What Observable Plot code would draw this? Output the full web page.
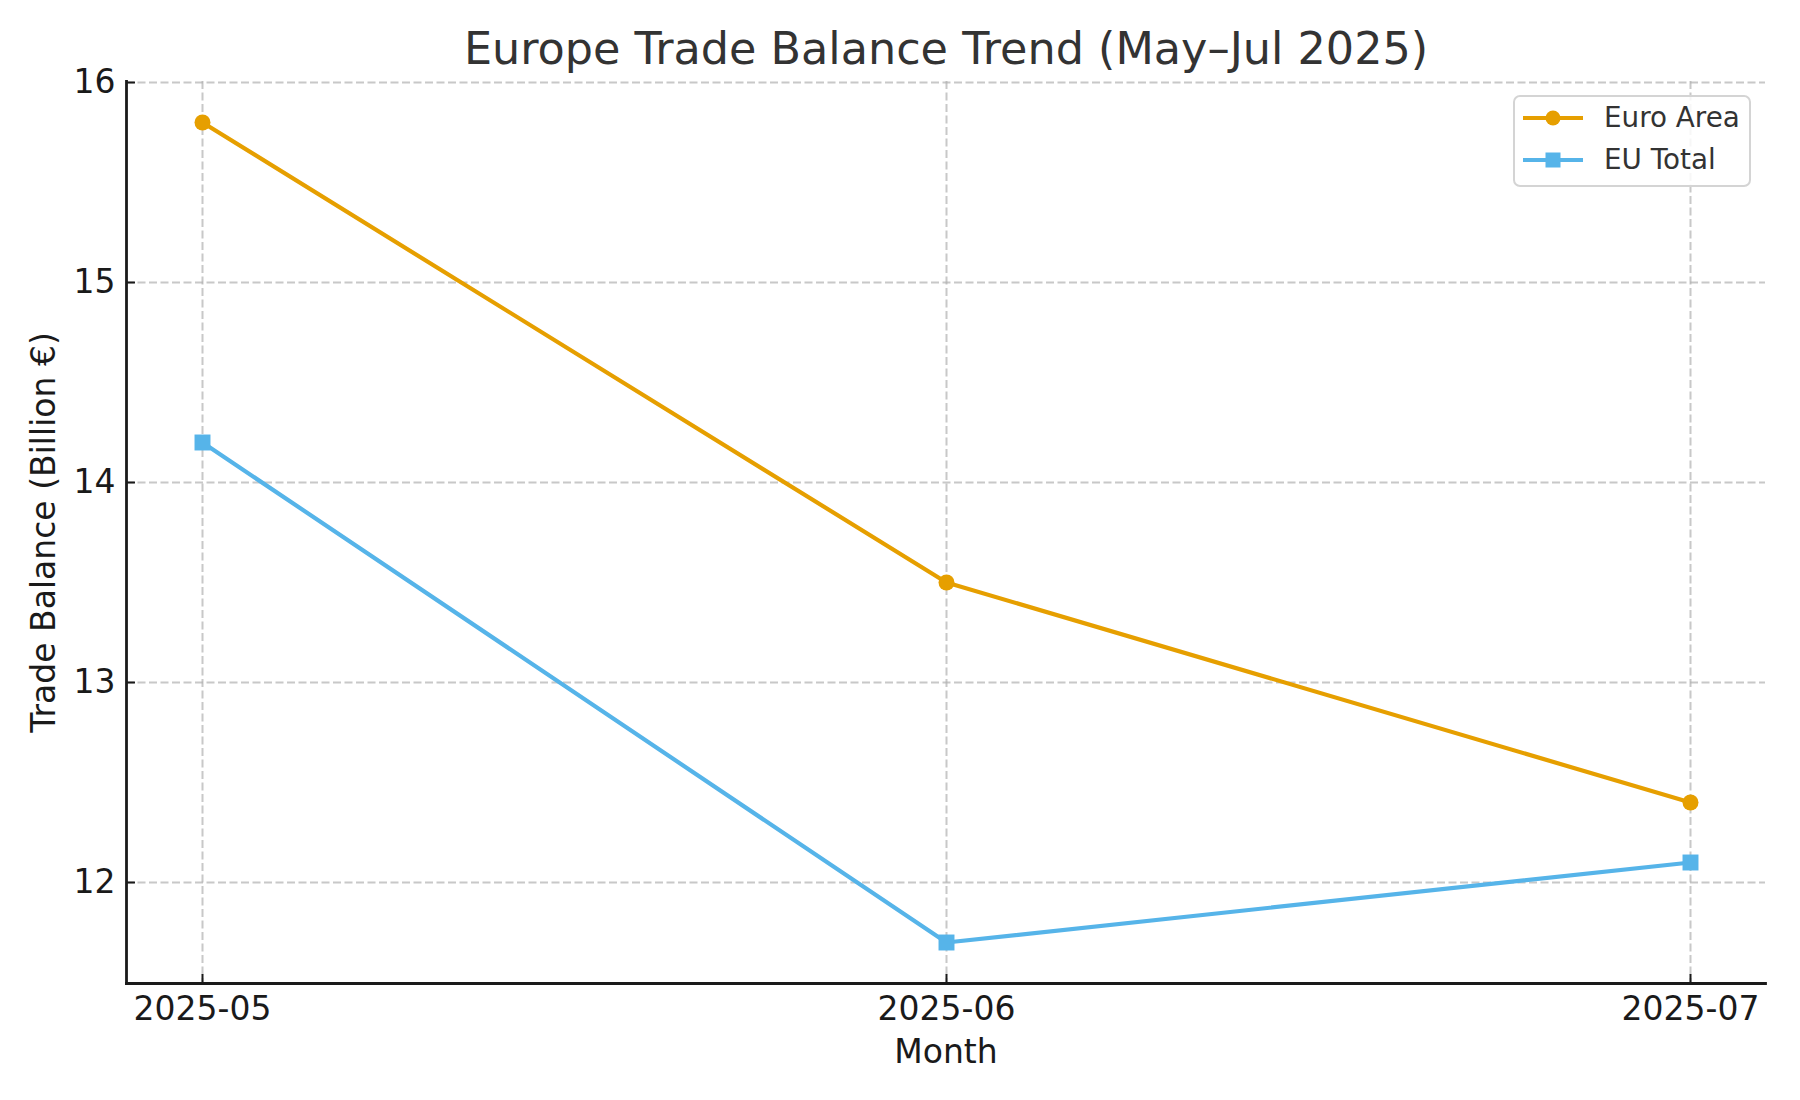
<!DOCTYPE html>
<html>
<head>
<meta charset="utf-8">
<script src="https://cdn.jsdelivr.net/npm/d3@7"></script>
<script src="https://cdn.jsdelivr.net/npm/@observablehq/plot@0.6"></script>
<style>
  body { margin: 0; background: #fff; overflow: hidden; }
  #wrap { position: relative; width: 1800px; height: 1100px; font-family: "DejaVu Sans", sans-serif; }
  #wrap > svg { display: block; }
  #legend { position: absolute; left: 1513px; top: 95px; width: 234px; height: 88px;
            border: 2px solid #d4d4d4; border-radius: 7px; background: rgba(255,255,255,0.85); }
  .row { position: absolute; left: 8px; height: 30px; display: flex; align-items: center; }
  .row svg { display: block; }
  .row span { margin-left: 21px; font-size: 27.8px; color: #333; line-height: 30px; white-space: nowrap; }
</style>
</head>
<body>
<div id="wrap"></div>
<script>
const months = ["2025-05", "2025-06", "2025-07"];
const euroArea = [15.8, 13.5, 12.4];
const euTotal = [14.2, 11.7, 12.1];
const seriesNames = ["Euro Area", "EU Total"];
const seriesColors = ["#E69F00", "#56B4E9"];
const seriesSymbols = ["circle", "square"];
const seriesRadius = [8, 9];
const yTicks = [12, 13, 14, 15, 16];
const yDomain = [11.495, 16.005];
const titleText = "Europe Trade Balance Trend (May–Jul 2025)";
const xLabel = "Month";
const yLabel = "Trade Balance (Billion €)";

const rows = [];
months.forEach((m, i) => {
  rows.push({month: m, value: euroArea[i], series: seriesNames[0]});
  rows.push({month: m, value: euTotal[i], series: seriesNames[1]});
});

const gridStyle = {stroke: "#b0b0b0", strokeOpacity: 0.7, strokeWidth: 2, strokeDasharray: "8,3.5"};
const textCommon = {textAnchor: "middle", lineAnchor: "middle"};

const seriesMarks = seriesNames.flatMap((name, i) => [
  Plot.line(rows.filter(d => d.series === name), {x: "month", y: "value", stroke: seriesColors[i], strokeWidth: 4.2}),
  Plot.dot(rows.filter(d => d.series === name), {x: "month", y: "value", fill: seriesColors[i], symbol: seriesSymbols[i], r: seriesRadius[i], stroke: "none"})
]);

const chart = Plot.plot({
  width: 1800,
  height: 1100,
  marginLeft: 126,
  marginRight: 35,
  marginTop: 81,
  marginBottom: 117,
  style: {fontFamily: "DejaVu Sans, sans-serif", fontSize: "33px", color: "#1a1a1a", background: "transparent"},
  x: {type: "point", domain: months, padding: 0.1, label: null},
  y: {domain: yDomain, label: null},
  marks: [
    Plot.gridX(months, {...gridStyle}),
    Plot.gridY(yTicks, {...gridStyle}),
    Plot.frame({anchor: "left", stroke: "#1a1a1a", strokeWidth: 2.8}),
    Plot.frame({anchor: "bottom", stroke: "#1a1a1a", strokeWidth: 2.8}),
    Plot.axisX({tickSize: 9, dy: -9, tickFormat: () => "", strokeWidth: 2, label: null}),
    Plot.axisX({tickSize: 0, tickPadding: 13, fontSize: 33, label: null}),
    Plot.axisY(yTicks, {tickSize: 9, dx: 9, tickFormat: () => "", strokeWidth: 2, label: null}),
    Plot.axisY(yTicks, {tickSize: 0, tickPadding: 11, fontSize: 33, tickFormat: d => String(d), label: null}),
    ...seriesMarks,
    Plot.text([titleText], {...textCommon, frameAnchor: "top", dy: -32, fontSize: 44.5, fill: "#333"}),
    Plot.text([xLabel], {...textCommon, frameAnchor: "bottom", dy: 69, fontSize: 33, fill: "#1a1a1a"}),
    Plot.text([yLabel], {...textCommon, frameAnchor: "left", dx: -82, rotate: -90, fontSize: 33, fill: "#1a1a1a"})
  ]
});

const wrap = document.getElementById("wrap");
wrap.appendChild(chart);

// Legend
const legend = document.createElement("div");
legend.id = "legend";
seriesNames.forEach((name, i) => {
  const row = document.createElement("div");
  row.className = "row";
  row.style.top = (6 + i * 42) + "px";
  const marker = seriesSymbols[i] === "circle"
    ? `<circle cx="30" cy="15" r="7.5" fill="${seriesColors[i]}"/>`
    : `<rect x="22.5" y="7.5" width="15" height="15" fill="${seriesColors[i]}"/>`;
  row.innerHTML = `<svg width="60" height="30"><line x1="0" x2="60" y1="15" y2="15" stroke="${seriesColors[i]}" stroke-width="4.2"/>${marker}</svg><span>${name}</span>`;
  legend.appendChild(row);
});
wrap.appendChild(legend);
</script>
</body>
</html>
